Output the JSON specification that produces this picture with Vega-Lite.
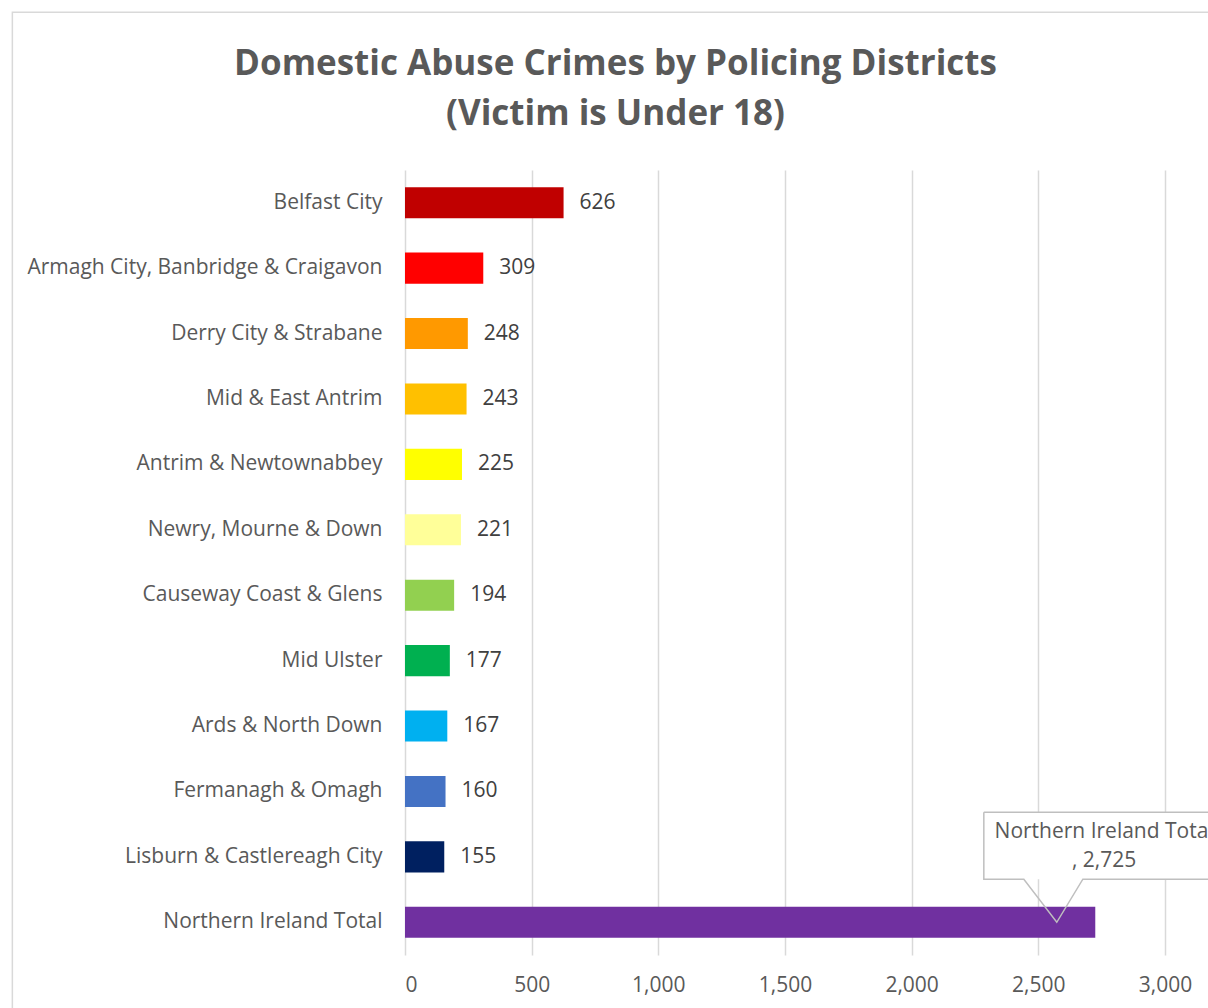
{
  "$schema": "https://vega.github.io/schema/vega-lite/v6.json",
  "autosize": {"type": "none"},
  "width": 803,
  "height": 785,
  "padding": {"left": 405, "top": 170, "right": 0, "bottom": 53},
  "background": "white",
  "config": {"view": {"stroke": null}, "font": "Open Sans"},
  "title": {
    "text": ["Domestic Abuse Crimes by Policing Districts", "(Victim is Under 18)"],
    "font": "Open Sans",
    "fontSize": 35,
    "fontWeight": "bold",
    "color": "#595959",
    "lineHeight": 50,
    "anchor": "middle",
    "baseline": "bottom",
    "dx": -191,
    "offset": -155
  },
  "datasets": {
    "districts": [
      {"district": "Belfast City", "value": 626},
      {"district": "Armagh City, Banbridge & Craigavon", "value": 309},
      {"district": "Derry City & Strabane", "value": 248},
      {"district": "Mid & East Antrim", "value": 243},
      {"district": "Antrim & Newtownabbey", "value": 225},
      {"district": "Newry, Mourne & Down", "value": 221},
      {"district": "Causeway Coast & Glens", "value": 194},
      {"district": "Mid Ulster ", "value": 177},
      {"district": "Ards & North Down", "value": 167},
      {"district": "Fermanagh & Omagh", "value": 160},
      {"district": "Lisburn & Castlereagh City", "value": 155},
      {"district": "Northern Ireland Total ", "value": 2725}
    ],
    "border": [{"x1": -1550, "x2": 5000, "y1": 14.41, "y2": -3}],
    "box": [{"x1": 2285, "x2": 3400, "y1": 2.183, "y2": 1.159}],
    "outline": [
      {"k": 0, "px": 2285, "py": 2.183},
      {"k": 1, "px": 3400, "py": 2.183},
      {"k": 2, "px": 3400, "py": 1.159},
      {"k": 3, "px": 2676, "py": 1.159},
      {"k": 4, "px": 2573, "py": 0.5},
      {"k": 5, "px": 2443, "py": 1.159},
      {"k": 6, "px": 2285, "py": 1.159},
      {"k": 7, "px": 2285, "py": 2.183}
    ],
    "callout": [
      {"label": "Northern Ireland Total", "px": 2760, "py": 1.878},
      {"label": ", 2,725", "px": 2760, "py": 1.434}
    ]
  },
  "resolve": {"scale": {"y": "independent"}},
  "layer": [
    {
      "data": {"name": "districts"},
      "layer": [
        {
          "mark": {"type": "bar"},
          "encoding": {
            "y": {
              "field": "district",
              "type": "nominal",
              "sort": null,
              "scale": {"paddingInner": 0.525, "paddingOuter": 0.2625},
              "axis": {
                "title": null,
                "ticks": false,
                "domain": false,
                "labelFontSize": 21,
                "labelColor": "#595959",
                "labelPadding": 23,
                "labelLimit": 0,
                "labelFont": "Open Sans"
              }
            },
            "x": {
              "field": "value",
              "type": "quantitative",
              "title": null,
              "scale": {"domain": [0, 3170], "nice": false, "zero": true},
              "axis": {
                "values": [0, 500, 1000, 1500, 2000, 2500, 3000],
                "format": ",d",
                "grid": true,
                "gridColor": "#d9d9d9",
                "gridWidth": 1.5,
                "ticks": false,
                "domain": false,
                "labelFontSize": 21,
                "labelColor": "#595959",
                "labelPadding": 19,
                "labelFont": "Open Sans"
              }
            },
            "color": {
              "field": "district",
              "type": "nominal",
              "legend": null,
              "scale": {
                "domain": ["Belfast City", "Armagh City, Banbridge & Craigavon", "Derry City & Strabane", "Mid & East Antrim", "Antrim & Newtownabbey", "Newry, Mourne & Down", "Causeway Coast & Glens", "Mid Ulster ", "Ards & North Down", "Fermanagh & Omagh", "Lisburn & Castlereagh City", "Northern Ireland Total "],
                "range": ["#C00000", "#FF0000", "#FF9900", "#FFC000", "#FFFF00", "#FFFF99", "#92D050", "#00B050", "#00B0F0", "#4472C4", "#002060", "#7030A0"]
              }
            }
          }
        },
        {
          "transform": [{"filter": "datum.value < 2000"}],
          "mark": {"type": "text", "align": "left", "baseline": "middle", "dx": 16, "fontSize": 21, "color": "#404040", "font": "Open Sans"},
          "encoding": {
            "y": {"field": "district", "type": "nominal", "sort": null},
            "x": {"field": "value", "type": "quantitative", "title": null},
            "text": {"field": "value", "type": "quantitative", "format": "d"}
          }
        }
      ]
    },
    {
      "layer": [
        {
          "data": {"name": "border"},
          "mark": {"type": "rect", "fill": null, "fillOpacity": 0, "stroke": "#d9d9d9", "strokeWidth": 1.5},
          "encoding": {
            "x": {"field": "x1", "type": "quantitative", "title": null},
            "x2": {"field": "x2"},
            "y": {"field": "y1", "type": "quantitative", "scale": {"domain": [0, 12], "nice": false, "zero": false}, "axis": null},
            "y2": {"field": "y2"}
          }
        },
        {
          "data": {"name": "box"},
          "mark": {"type": "rect", "fill": "white"},
          "encoding": {
            "x": {"field": "x1", "type": "quantitative", "title": null},
            "x2": {"field": "x2"},
            "y": {"field": "y1", "type": "quantitative", "axis": null},
            "y2": {"field": "y2"}
          }
        },
        {
          "data": {"name": "outline"},
          "mark": {"type": "line", "stroke": "#bfbfbf", "strokeWidth": 1.5},
          "encoding": {
            "x": {"field": "px", "type": "quantitative", "title": null},
            "y": {"field": "py", "type": "quantitative", "axis": null},
            "order": {"field": "k", "type": "quantitative"}
          }
        },
        {
          "data": {"name": "callout"},
          "mark": {"type": "text", "align": "center", "baseline": "middle", "fontSize": 21, "color": "#595959", "font": "Open Sans"},
          "encoding": {
            "x": {"field": "px", "type": "quantitative", "title": null},
            "y": {"field": "py", "type": "quantitative", "axis": null},
            "text": {"field": "label", "type": "nominal"}
          }
        }
      ]
    }
  ]
}
